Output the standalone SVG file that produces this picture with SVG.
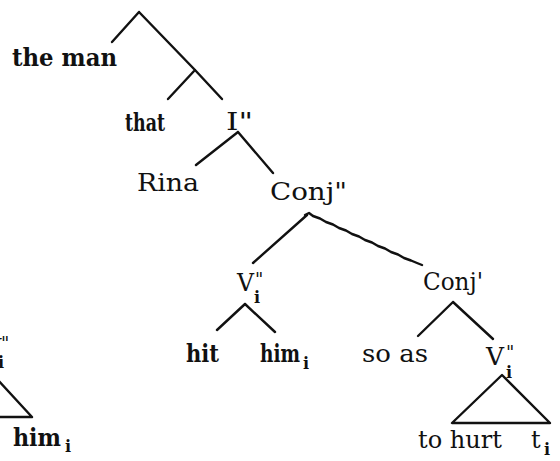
<svg xmlns="http://www.w3.org/2000/svg" width="560" height="461" viewBox="0 0 560 461">
<style>
.t{font-family:"DejaVu Serif","Liberation Serif",serif;font-size:24px;fill:#111}
.s{font-family:"DejaVu Serif","Liberation Serif",serif;font-size:16px;font-weight:bold;fill:#111}
.q{font-family:"DejaVu Serif","Liberation Serif",serif;font-size:18px;fill:#111}
.e{stroke:#111;stroke-width:2.4;fill:none;stroke-linecap:round;stroke-linejoin:round}
</style>
<rect width="560" height="461" fill="#fff"/>
<g id="connectors">
<path class="e" d="M139,12 L112,42 M139,12 L195,70 M195,70 L168,99 M195,70 L222,99"/>
<path class="e" d="M238,132 L196,165 M238,132 L273,173"/>
<path class="e" d="M307,215 L253,263"/>
<path class="e" d="M305,215 L309,213 L313,216 L320,218.5 L326,222 L333,224.5 L339,228 L346,230.5 L352,234 L359,236.5 L365,240 L372,242.5 L378,246 L385,248.5 L391,252 L398,254.5 L404,258 L411,260.5 L417,263 L422,265"/>
<path class="e" d="M245,304 L217,330 M245,304 L275,332"/>
<path class="e" d="M453,302 L418,336 M453,302 L493,339"/>
<path class="e" d="M502,375 L452,423 L550,423 Z"/>
<path class="e" d="M-2,380 L32,417 L-2,417"/>
</g>
<g id="n-the-man"><text class="t" x="12" y="66" textLength="105" lengthAdjust="spacingAndGlyphs" font-weight="bold">the man</text></g>
<g id="n-that"><text class="t" x="125" y="131" textLength="40" lengthAdjust="spacingAndGlyphs" font-weight="bold">that</text></g>
<g id="n-I2"><text class="t" x="226" y="130" textLength="27" lengthAdjust="spacingAndGlyphs">I"</text></g>
<g id="n-rina"><text class="t" x="137" y="191" textLength="62" lengthAdjust="spacingAndGlyphs">Rina</text></g>
<g id="n-conj2"><text class="t" x="270" y="200" textLength="77" lengthAdjust="spacingAndGlyphs">Conj"</text></g>
<g id="n-v-mid"><text class="t" x="237" y="291" textLength="17" lengthAdjust="spacingAndGlyphs">V</text><text class="q" x="255" y="286">"</text><text class="s" x="254" y="303">i</text></g>
<g id="n-conj1"><text class="t" x="423" y="290" textLength="60" lengthAdjust="spacingAndGlyphs">Conj'</text></g>
<g id="n-hit"><text class="t" x="186" y="362" textLength="33" lengthAdjust="spacingAndGlyphs" font-weight="bold">hit</text></g>
<g id="n-him-mid"><text class="t" x="260" y="362" textLength="40" lengthAdjust="spacingAndGlyphs" font-weight="bold">him</text><text class="s" x="303" y="369">i</text></g>
<g id="n-so-as"><text class="t" x="362" y="362" textLength="66" lengthAdjust="spacingAndGlyphs">so as</text></g>
<g id="n-v-right"><text class="t" x="486" y="365" textLength="18" lengthAdjust="spacingAndGlyphs">V</text><text class="q" x="506" y="359">"</text><text class="s" x="506" y="378">i</text></g>
<g id="n-to-hurt"><text class="t" x="418" y="448" textLength="84" lengthAdjust="spacingAndGlyphs">to hurt</text></g>
<g id="n-t"><text class="t" x="531" y="448">t</text><text class="s" x="544" y="455">i</text></g>
<g id="n-v-left"><text class="t" x="-16" y="356">V</text><text class="q" x="1" y="350">"</text><text class="s" x="-2" y="368">i</text></g>
<g id="n-him-left"><text class="t" x="13" y="446" textLength="48" lengthAdjust="spacingAndGlyphs" font-weight="bold">him</text><text class="s" x="65" y="452">i</text></g>
</svg>
